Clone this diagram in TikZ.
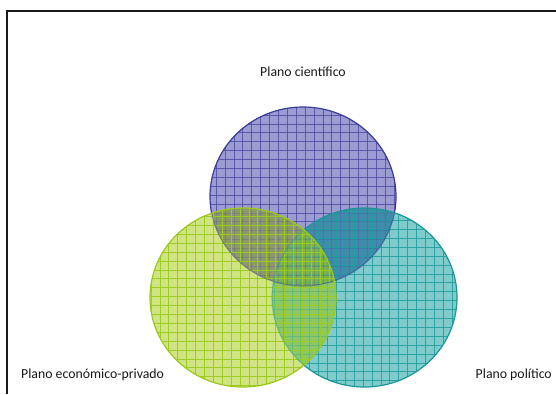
\documentclass[tikz,border=0pt]{standalone}
\usepackage{fontspec}
\setmainfont{Carlito}
\definecolor{pfill}{HTML}{9C9CD2}
\definecolor{tfill}{HTML}{80CCCC}
\definecolor{gfill}{HTML}{D0E484}
\definecolor{pgfillc}{HTML}{8E9A66}
\definecolor{ptfillc}{HTML}{3F8CA8}
\definecolor{gtfillc}{HTML}{8CC866}
\definecolor{allfillc}{HTML}{7CB34E}
\definecolor{pline}{HTML}{4E4EA8}
\definecolor{tline}{HTML}{1F9E9E}
\definecolor{gline}{HTML}{9CCB1E}
\definecolor{pedge}{HTML}{3A3A98}
\definecolor{tedge}{HTML}{1A9696}
\definecolor{gedge}{HTML}{9CC81C}
\tikzset{
  pcirc/.style={insert path={(303,196.5) ellipse [x radius=93, y radius=89.5]}},
  tcirc/.style={insert path={(364.5,297.5) ellipse [x radius=92.5, y radius=89.5]}},
  gcirc/.style={insert path={(243,297.5) ellipse [x radius=93, y radius=89.5]}},
  pgridline/.style={draw=pline, line width=1pt, opacity=0.85},
  tgridline/.style={draw=tline, line width=1pt, opacity=0.85},
  ggridline/.style={draw=gline, line width=1pt, opacity=0.95},
  under/.style={opacity=0.3},
  label/.style={font=\fontsize{13.8}{16}\selectfont, text=black!90, inner sep=0pt},
  frameline/.style={line width=2pt, draw=black!90}
}
\newcommand{\pgridlines}[1]{%
  \foreach \k in {-8,...,17} \draw[pgridline,#1] ({260.7+8.9*\k},100) -- ({260.7+8.9*\k},300);
  \foreach \k in {-3,...,20} \draw[pgridline,#1] (200,{124+8.9*\k}) -- (410,{124+8.9*\k});}
\newcommand{\tgridlines}[1]{%
  \foreach \k in {-15,...,10} \draw[tgridline,#1] ({381+8.9*\k},200) -- ({381+8.9*\k},400);
  \foreach \k in {-10,...,15} \draw[tgridline,#1] (260,{274+8.9*\k}) -- (470,{274+8.9*\k});}
\newcommand{\ggridlines}[1]{%
  \foreach \k in {-3,...,22} \draw[ggridline,#1] ({160+8.9*\k},200) -- ({160+8.9*\k},400);
  \foreach \k in {-10,...,15} \draw[ggridline,#1] (140,{270+8.9*\k}) -- (350,{270+8.9*\k});}
\begin{document}
\begin{tikzpicture}[x=1pt,y=-1pt]
\useasboundingbox (0,0) rectangle (556,394);
\fill[white] (0,0) rectangle (556,394);
% purple layer
\fill[pfill, pcirc];
\begin{scope}\clip[pcirc]; \pgridlines{} \end{scope}
\draw[pedge, line width=1.2pt, pcirc];
% teal layer
\fill[tfill, tcirc];
\begin{scope}\clip[pcirc]; \fill[ptfillc, tcirc]; \end{scope}
\begin{scope}\clip[pcirc]; \clip[tcirc]; \pgridlines{under} \end{scope}
\begin{scope}\clip[tcirc]; \tgridlines{} \end{scope}
\begin{scope}\clip[tcirc]; \draw[pedge, line width=1.2pt, opacity=0.5, pcirc]; \end{scope}
\draw[tedge, line width=1.2pt, tcirc];
% green layer
\fill[gfill, gcirc];
\begin{scope}\clip[pcirc]; \fill[pgfillc, gcirc]; \end{scope}
\begin{scope}\clip[gcirc]; \fill[gtfillc, tcirc]; \end{scope}
\begin{scope}\clip[pcirc]; \clip[tcirc]; \fill[allfillc, gcirc]; \end{scope}
\begin{scope}\clip[gcirc]; \clip[pcirc]; \pgridlines{under} \end{scope}
\begin{scope}\clip[gcirc]; \clip[tcirc]; \tgridlines{under} \end{scope}
\begin{scope}\clip[gcirc]; \ggridlines{} \end{scope}
\begin{scope}\clip[gcirc];
  \draw[pedge, line width=1.2pt, opacity=0.4, pcirc];
  \draw[tedge, line width=1.2pt, opacity=0.4, tcirc];
\end{scope}
\draw[gedge, line width=1.2pt, gcirc];
% frame
\draw[frameline] (7,394) -- (7,11) -- (556,11);
% labels
\node[label, anchor=base] (cient) at (303,76) {Plano científico};
\node[label, anchor=base west] (econ) at (21,378) {Plano económico-privado};
\node[label, anchor=base east] (polit) at (552,378) {Plano político};
\end{tikzpicture}
\end{document}
